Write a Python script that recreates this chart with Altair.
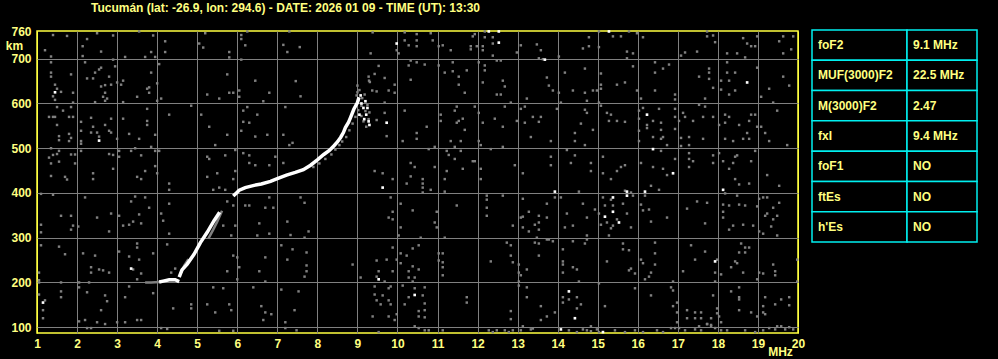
import altair as alt
import pandas as pd

TITLE = "Tucumán (lat: -26.9, lon: 294.6) - DATE: 2026 01 09 - TIME (UT): 13:30"
FREQ_TICKS = list(range(1, 21))
HEIGHT_TICKS = [100, 200, 300, 400, 500, 600, 700, 760]

TABLE_PARAMS = ["foF2", "MUF(3000)F2", "M(3000)F2", "fxI", "foF1", "ftEs", "h'Es"]
TABLE_VALUES = ["9.1 MHz", "22.5 MHz", "2.47", "9.4 MHz", "NO", "NO", "NO"]

# main echo trace (white), segments
TRACE_BOTTOM_F = [4.05, 4.15, 4.3, 4.45, 4.55]
TRACE_BOTTOM_H = [201, 203, 206, 206, 202]
TRACE_LOWER_F = [4.55, 4.62, 4.75, 4.92, 5.08, 5.25, 5.42, 5.56]
TRACE_LOWER_H = [212, 228, 241, 263, 289, 312, 338, 357]
TRACE_UPPER_F = [5.9, 5.98, 6.05, 6.2, 6.42, 6.6, 6.83, 7.0, 7.23, 7.45, 7.65, 7.83, 8.0,
                 8.16, 8.3, 8.41, 8.5, 8.58, 8.65, 8.7, 8.78, 8.83, 8.91, 9.0, 9.04]
TRACE_UPPER_H = [393, 400, 406, 412, 417, 420, 426, 432, 440, 446, 452, 462, 474,
                 486, 495, 505, 514, 524, 535, 546, 558, 569, 587, 602, 614]
# faint (gray) echo segments
FAINT_A_F = [3.7, 3.85, 4.05]
FAINT_A_H = [200, 200, 201]
FAINT_B_F = [4.6, 4.68, 4.78]
FAINT_B_H = [222, 238, 252]
FAINT_C_F = [5.28, 5.4, 5.5, 5.62]
FAINT_C_H = [298, 318, 336, 360]

TRACE_GRAY_PTS = [(7.9,458),(8.05,466),(8.2,476),(8.35,486),(8.45,497),(8.55,507),(8.62,515),
    (8.72,525),(8.8,540),(8.88,555),(8.95,570),(9.02,585),(9.1,572),(9.15,560),(9.22,548),
    (9.28,565),(9.3,580),(9.25,597),(9.12,612),(9.05,630),(9.0,640),(9.1,595),(9.18,620),
    (8.98,618),(9.2,583),(9.29,651),(9.37,629),(9.0,625)]
TRACE_WHITE_PTS = [(9.1,600),(9.15,590),(9.2,605),(9.22,575),(9.28,560),(9.3,552),(9.17,565),
    (9.08,618),(9.25,590),(9.05,575)]

NOISE_WHITE = [(1.45,625),(2.55,517),(9.98,734),(12.28,761),(12.53,761),(12.53,736),(9.73,557),
    (13.68,698),(15.28,761),(18.73,647),(16.23,575),(16.38,498),(16.88,444),(3.35,231),(1.15,155),
    (9.63,412),(9.53,207),(10.43,172),(13.93,403),(15.18,347),(15.38,390),(15.38,358),(15.53,334),
    (15.73,403),(15.73,394),(16.18,403),(18.13,407),(17.93,247),(14.28,180),(14.43,120),(14.08,95),
    (15.13,89)]

NOISE_GRAY = [
    (1.75,751),(1.4,753),(2.25,744),(2.5,757),(2.9,752),(3.55,761),(3.9,752),(4.2,739),(4.2,715),
    (3.85,715),(3.2,704),(2.6,716),(2.14,728),(2.14,706),(1.2,719),(1.35,705),(1.35,692),(2.2,692),
    (2.9,698),(2.95,683),(4.05,688),(3.7,704),(3.95,704),(5.2,757),(5.05,734),(5.15,725),(5.8,715),
    (5.8,703),(6.1,753),(6.1,744),(6.2,730),(6.25,761),(7.15,731),(7.25,715),(7.3,761),(6.1,698),
    (1.35,669),(1.35,660),(1.85,665),(1.45,642),(1.5,633),(1.6,626),(1.4,616),(1.45,608),(1.9,624),
    (1.9,602),(2.25,656),(2.4,656),(2.45,669),(2.55,676),(2.6,680),(2.8,660),(2.6,638),(2.7,641),
    (2.85,642),(2.7,624),(2.65,615),(2.75,611),(2.7,606),(2.45,603),(3.0,647),(3.15,651),(3.1,642),
    (3.15,603),(3.5,615),(3.8,636),(3.75,633),(3.8,624),(3.85,669),(4.0,645),(4.1,611),(4.0,606),
    (4.85,595),(5.25,620),(5.55,611),(5.75,665),(5.8,624),(5.9,624),(6.05,629),(6.05,615),(6.45,651),
    (6.8,624),(6.65,605),
    (1.3,570),(1.4,570),(1.45,570),(1.5,592),(1.65,584),(1.8,570),(1.9,570),(1.85,592),(1.5,552),
    (1.8,532),(1.85,523),(1.55,527),(1.55,518),(1.8,516),(2.1,559),(2.35,568),(2.4,548),(2.1,539),
    (2.1,516),(2.1,510),(2.35,535),(2.5,535),(2.55,526),(2.7,552),(2.8,539),(2.85,535),(2.85,566),
    (3.15,566),(3.0,521),(3.3,532),(3.55,521),(3.75,588),(3.75,561),(3.75,552),(3.95,530),(4.3,575),
    (5.1,575),(5.3,548),(5.45,507),(5.75,530),(6.15,584),(6.15,559),(6.25,592),(6.3,557),(6.5,575),
    (6.1,539),(6.45,526),(6.75,530),(7.2,592),(7.15,530),(7.3,507),
    (1.35,500),(1.55,494),(1.5,487),(1.4,485),(1.3,479),(1.35,466),(1.55,470),(1.85,486),(1.95,486),
    (1.95,466),(1.35,438),(1.7,436),(1.75,430),(2.1,494),(2.4,444),(2.4,431),(2.8,487),(2.9,485),
    (2.9,454),(3.05,494),(3.05,481),(3.35,494),(3.45,500),(3.6,484),(3.85,503),(3.95,494),(4.05,494),
    (3.95,460),(3.7,449),(3.5,436),(3.6,431),(4.0,444),(5.25,481),(5.3,476),(5.25,436),(5.5,444),
    (5.7,484),(5.95,496),(5.95,449),(5.9,431),(6.15,489),(6.3,484),(6.3,467),(6.45,462),(6.8,462),
    (6.95,481),(7.15,467),
    (7.46,650),(7.58,616),(7.56,726),(7.38,512),(9.38,759),(9.33,712),(9.53,684),(9.28,660),(9.43,666),
    (9.31,648),(9.68,657),(9.78,629),(9.93,642),(9.93,624),(9.48,627),(9.68,602),(9.68,579),(9.48,563),
    (9.73,527),(9.98,719),(10.03,712),(10.18,759),(10.18,741),(10.28,730),(10.28,685),(10.33,653),
    (10.18,584),(10.48,755),(10.48,741),(10.48,728),(10.68,687),(10.83,757),(10.88,741),(11.03,728),
    (11.03,685),(11.13,730),(10.33,696),(10.48,692),(10.48,534),(10.48,521),(10.13,516),(10.33,467),
    (10.43,458),(10.73,548),(10.78,498),(10.93,503),(10.93,458),(11.08,575),(11.08,561),(11.18,669),
    (11.33,719),(11.38,692),(11.38,672),(11.53,660),(11.53,642),(11.68,624),(11.73,674),(11.88,750),
    (11.83,728),(11.83,721),(11.93,755),(11.98,728),(12.13,719),(12.18,761),(12.18,748),(12.13,728),
    (12.38,748),(12.38,734),(12.38,707),(12.58,696),(12.48,696),(12.03,692),(12.18,685),(12.18,674),
    (12.13,647),(12.63,651),(12.68,638),(12.48,620),(12.58,620),(12.83,602),(12.68,593),(12.03,579),
    (11.93,593),(12.13,557),(12.43,566),(12.63,548),(12.03,516),(12.08,507),(12.33,498),(12.63,503),
    (11.53,561),(11.48,557),(11.63,566),(11.68,541),(11.48,593),(11.43,584),(11.58,516),(11.33,516),
    (11.43,503),(11.23,494),(11.28,485),(11.58,494),(11.43,476),(11.63,454),(11.88,471),(11.93,471),
    (12.08,454),(12.08,431),(11.23,449),(11.18,431),(12.98,714),(13.08,730),(13.48,732),(13.58,719),
    (13.53,701),(13.63,699),(13.23,611),(13.08,588),(13.18,593),(13.38,570),(13.58,570),(13.53,559),
    (13.18,557),(13.33,525),(12.98,561),(13.13,444),(12.93,462),(9.88,431),(9.43,449),(9.63,444),
    (10.33,437),(10.63,431),
    (13.73,658),(13.78,640),(13.88,629),(14.03,624),(14.08,602),(14.03,705),(14.18,669),(14.38,629),
    (14.63,723),(14.78,748),(14.78,728),(14.68,678),(14.68,624),(14.73,606),(14.88,629),(14.98,629),
    (15.03,761),(15.03,726),(15.08,667),(15.08,642),(15.08,633),(15.03,602),(15.08,595),(15.38,750),
    (15.58,750),(15.73,716),(15.73,701),(15.88,712),(15.88,683),(15.78,761),(15.98,757),(15.68,647),
    (15.48,642),(15.98,629),(16.08,611),(16.13,748),(16.43,692),(16.43,669),(16.63,678),(16.78,687),
    (16.43,629),(16.93,620),(16.93,609),(17.08,707),(17.18,714),(17.48,716),(17.53,660),(17.78,678),
    (17.78,669),(17.78,655),(17.73,761),(17.73,750),(17.88,752),(17.93,737),(17.88,635),(18.08,651),
    (18.08,631),(18.23,712),(18.23,692),(18.23,669),(18.43,669),(18.28,651),(18.43,629),(18.28,620),
    (18.48,712),(18.63,746),(18.73,734),(18.68,703),(18.83,728),(18.93,728),(18.98,750),(18.98,680),
    (19.08,615),(19.28,633),(19.38,602),(19.63,750),(19.53,739),(19.63,712),(19.83,721),(19.88,750),
    (19.63,660),(19.78,640),
    (13.98,588),(13.83,516),(14.43,534),(14.43,516),(14.58,555),(14.68,586),(14.73,579),(14.68,507),
    (14.88,541),(15.23,579),(15.33,575),(15.28,561),(15.48,561),(15.68,559),(16.03,584),(16.03,566),
    (16.03,539),(16.03,516),(16.13,590),(16.23,552),(16.23,545),(16.38,561),(16.53,588),(16.58,557),
    (16.58,541),(16.63,525),(16.58,521),(16.38,525),(16.73,507),(16.93,588),(16.93,570),(16.93,543),
    (17.03,561),(17.13,579),(17.18,570),(17.38,561),(17.53,597),(17.68,611),(17.68,593),(17.63,570),
    (17.88,570),(17.08,523),(17.28,525),(17.28,507),(17.63,521),(18.03,552),(18.18,575),(18.28,570),
    (18.18,557),(18.18,521),(18.38,516),(18.53,552),(18.63,521),(18.73,534),(18.78,521),(18.78,561),
    (18.83,575),(18.93,575),(18.98,548),(19.08,548),(19.18,534),(19.28,516),(19.48,584),(19.73,507),
    (13.83,481),(13.83,462),(14.23,496),(14.33,467),(14.43,484),(14.83,467),(14.83,449),(15.13,481),
    (15.13,444),(15.33,431),(15.48,449),(15.58,458),(15.68,462),(16.08,467),(16.38,458),(16.58,494),
    (16.63,454),(16.73,440),(16.93,476),(17.08,505),(17.28,489),(17.28,476),(17.28,458),(17.38,471),
    (17.88,484),(17.88,467),(18.03,489),(18.13,471),(18.28,454),(18.38,467),(18.43,481),(18.48,484),
    (18.43,431),(18.83,471),(18.93,494),(19.23,440),
    (1.1,398),(1.4,396),(1.6,349),(1.85,349),(1.1,329),(1.1,312),(1.85,318),(1.9,327),(2.03,325),
    (2.2,390),(2.5,345),(2.8,314),(2.85,354),(3.05,349),(3.15,327),(3.3,329),(3.4,336),(3.35,381),
    (3.45,392),(3.55,352),(3.6,332),(3.8,367),(3.7,390),(4.1,354),(4.15,338),(4.3,309),(4.3,376),
    (4.3,407),(4.3,421),(5.4,407),(5.55,412),(5.7,407),(5.75,381),(5.9,372),(5.95,327),(5.65,327),
    (5.85,305),(6.2,372),(6.3,372),(6.7,367),(6.9,367),(6.8,390),(6.55,332),(6.5,305),(6.8,309),
    (7.25,336),(1.1,283),(1.55,280),(1.7,263),(2.15,265),(2.45,260),(2.35,234),(2.55,229),(2.65,227),
    (2.8,222),(2.35,222),(3.05,269),(3.3,258),(3.4,229),(3.5,287),(3.5,278),(3.55,251),(3.6,220),
    (3.5,207),(3.9,265),(4.25,285),(4.35,222),(4.45,231),(5.9,260),(5.75,225),(6.0,256),(6.05,234),
    (6.0,207),(6.55,225),(6.7,256),(6.7,202),(7.1,283),(7.25,251),(1.05,222),(1.05,200),(1.05,205),
    (1.6,200),(2.3,200),(2.05,200),
    (1.05,173),(1.2,160),(1.15,138),(1.15,120),(1.6,180),(1.6,167),(2.05,189),(2.25,178),(2.6,138),
    (2.7,171),(2.75,158),(2.7,107),(2.5,111),(2.2,116),(2.05,113),(2.25,98),(2.35,98),(3.0,111),
    (3.2,111),(3.3,191),(3.2,167),(3.5,116),(3.6,116),(3.9,176),(4.1,98),(4.25,96),(4.4,142),
    (4.85,151),(4.85,142),(5.4,189),(5.25,151),(5.45,133),(5.65,187),(5.8,151),(5.85,138),(5.55,92),
    (5.9,92),(6.4,189),(6.6,147),(6.7,133),(6.85,129),(6.65,116),(7.1,184),(7.2,111),(7.2,98),
    (10.23,421),(10.63,421),(10.63,412),(10.63,401),(10.83,407),(11.18,403),(7.58,390),(7.68,378),
    (7.78,314),(7.68,300),(7.38,274),(7.73,267),(7.73,238),(7.73,225),(7.68,213),(7.33,306),(8.88,240),
    (9.08,211),(9.48,249),(9.73,251),(9.88,278),(9.88,225),(9.83,390),(9.88,358),(9.78,345),(9.88,341),
    (10.08,376),(10.08,323),(10.03,305),(10.38,361),(10.58,300),(10.53,283),(10.38,276),(10.08,265),
    (10.23,260),(9.98,251),(10.08,243),(10.28,225),(10.38,236),(10.53,229),(10.28,211),(10.43,211),
    (10.38,202),(9.53,225),(9.68,202),(9.48,213),(10.98,358),(10.93,334),(10.98,323),(11.18,300),
    (11.03,265),(11.13,265),(11.03,249),(11.13,245),(11.13,234),(11.13,216),(11.48,372),(12.23,394),
    (12.23,385),(12.23,367),(12.23,349),(12.63,394),(13.13,387),(12.88,327),(13.13,347),(13.08,345),
    (13.28,358),(13.53,349),(13.53,334),(13.43,329),(13.13,323),(13.28,314),(13.53,318),(13.48,300),
    (13.43,289),(13.53,287),(12.73,289),(12.83,283),(12.83,260),(12.88,245),(12.33,247),(13.03,240),
    (13.23,229),(13.03,222),(13.08,216),(13.53,260),(13.03,202),(13.03,193),(13.23,189),(13.23,167),
    (13.58,147),(13.58,116),(12.83,136),(12.83,118),(13.13,102),(13.33,95),(13.38,97),(7.53,180),
    (7.43,138),(7.48,93),(9.43,191),(9.43,173),(9.48,160),(9.63,171),(9.58,151),(9.78,187),(9.83,191),
    (9.83,151),(9.78,160),(10.18,151),(10.13,193),(10.28,167),(10.43,187),(10.63,171),(10.68,189),
    (10.68,153),(10.53,136),(10.68,138),(10.68,122),(10.53,124),(9.38,124),(9.78,124),(9.93,116),
    (9.98,129),(10.43,102),(10.53,98),(10.68,93),(10.78,93),(11.13,93),(11.73,167),(11.73,155),
    (12.28,93),(12.38,89),(12.48,93),(12.68,93),(12.78,89),(12.88,93),(13.08,93),(9.53,89),
    (14.08,390),(13.93,390),(14.53,403),(14.63,376),(14.23,354),(13.73,376),(13.73,345),(14.73,345),
    (14.93,363),(14.73,305),(14.38,327),(14.18,323),(13.88,292),(13.78,296),(14.38,292),(14.68,287),
    (15.03,354),(15.13,390),(15.18,372),(15.33,385),(15.38,372),(15.23,334),(15.38,327),(15.33,321),
    (15.48,341),(15.63,376),(15.68,405),(15.83,401),(15.88,394),(15.73,354),(15.83,323),(15.08,329),
    (15.28,305),(16.08,374),(16.13,361),(16.18,394),(16.33,416),(16.53,407),(16.28,363),(16.33,336),
    (16.73,345),(17.23,365),(17.48,381),(17.73,378),(17.68,332),(18.18,399),(18.48,394),(18.53,419),
    (18.78,421),(18.53,374),(18.68,372),(18.13,374),(18.13,358),(18.13,345),(18.28,372),(18.38,327),
    (18.28,318),(18.63,329),(18.88,327),(18.98,370),(19.03,387),(19.13,390),(19.23,390),(19.53,416),
    (19.53,378),(19.38,367),(19.48,349),(19.23,354),(19.18,349),(19.03,314),(19.13,309),(19.33,325),
    (19.48,305),(19.38,341),
    (13.73,296),(14.13,274),(14.13,247),(14.13,240),(14.13,222),(14.38,234),(14.48,229),(14.53,202),
    (14.73,296),(15.63,287),(15.63,274),(15.78,272),(15.23,247),(15.83,231),(15.78,227),(15.93,220),
    (16.08,251),(16.13,243),(16.43,289),(16.43,265),(16.43,240),(16.33,222),(16.28,213),(16.18,207),
    (17.13,225),(17.33,283),(17.43,251),(17.68,269),(17.98,251),(17.93,222),(17.93,202),(18.08,218),
    (18.33,234),(18.43,247),(18.48,243),(18.58,287),(18.68,278),(18.53,267),(18.68,267),(18.78,278),
    (18.63,222),(19.03,222),(19.13,220),(19.38,240),(19.43,225),(19.43,216),(19.98,251),(19.98,202),
    (18.98,207),
    (14.13,167),(14.13,155),(14.28,162),(14.48,167),(14.58,151),(14.48,142),(13.73,124),(13.93,133),
    (15.03,198),(15.18,147),(15.93,187),(16.33,171),(16.88,202),(16.83,189),(16.88,182),(16.98,155),
    (16.88,147),(16.98,133),(16.98,111),(17.23,138),(17.23,120),(17.43,133),(17.43,120),(17.58,133),
    (17.58,120),(17.83,120),(17.73,107),(17.83,105),(17.98,131),(18.03,124),(18.08,111),(17.88,171),
    (17.98,142),(18.33,180),(18.53,189),(18.53,167),(18.53,162),(18.53,138),(18.83,133),(18.98,124),
    (19.13,147),(19.13,133),(19.18,129),(19.18,167),(19.43,151),(19.58,162),(19.78,167),(19.78,149),
    (14.28,93),(14.48,89),(14.63,95),(14.73,93),(14.83,102),(14.83,91),(14.98,95),(15.03,89),
    (15.43,93),(15.68,89),(15.93,93),(16.13,89),(16.48,93),(16.63,89),(16.83,98),(16.93,98),
    (17.03,98),(17.18,93),(17.43,95),(17.53,102),(17.58,93),(17.73,107),(17.83,102),(17.93,98),
    (18.08,93),(18.23,93),(18.68,93),(18.93,89),(19.13,93),(19.28,98),(19.43,95),(19.48,102),
    (19.58,102),(19.68,95),(19.78,100),(19.88,95),
]

YELLOW_TXT = "#ffff80"
YELLOW_LINE = "#ffff40"
GRAY = "#808080"
CYAN = "#00f0f0"
FONT = "Liberation Sans"

def pts_df(pts):
    return pd.DataFrame({"f": [p[0] for p in pts], "h": [p[1] for p in pts]})

def seg_df(pairs):
    rows = []
    for name, fs, hs in pairs:
        for f, h in zip(fs, hs):
            rows.append({"seg": name, "f": f, "h": h})
    return pd.DataFrame(rows)

xscale = alt.Scale(domain=[1, 20], nice=False, zero=False)
yscale = alt.Scale(domain=[87, 762], nice=False, zero=False)

xaxis = alt.Axis(
    values=FREQ_TICKS, labelColor=YELLOW_TXT, labelFont=FONT, labelFontWeight="bold",
    labelFontSize=12, labelPadding=5, labelFlush=False, labelOverlap=False, labelBound=False,
    ticks=False, domain=False,
    gridColor={"condition": {"test": "datum.value == 1 || datum.value == 20", "value": YELLOW_LINE}, "value": GRAY},
    gridWidth=1, gridOpacity=1,
    title="MHz", titleColor=YELLOW_TXT, titleFont=FONT, titleFontWeight="bold", titleFontSize=12,
    titleX=743, titleY=18, titleAlign="center", titleBaseline="middle", titleAngle=0,
)
yaxis = alt.Axis(
    values=HEIGHT_TICKS, labelColor=YELLOW_TXT, labelFont=FONT, labelFontWeight="bold",
    labelFontSize=12, labelPadding=6, labelFlush=False, labelOverlap=False, labelBound=False,
    labelBaseline="middle",
    ticks=False, domain=False,
    gridColor=GRAY, gridWidth=1,
    gridOpacity={"condition": {"test": "datum.value == 760", "value": 0}, "value": 1},
    title="km", titleColor=YELLOW_TXT, titleFont=FONT, titleFontWeight="bold", titleFontSize=12,
    titleX=-23, titleY=14, titleAlign="center", titleBaseline="middle", titleAngle=0,
)

noise_gray = alt.Chart(pts_df(NOISE_GRAY + TRACE_GRAY_PTS)).mark_square(
    size=6, color=GRAY, opacity=1).encode(
    x=alt.X("f:Q", scale=xscale, axis=xaxis),
    y=alt.Y("h:Q", scale=yscale, axis=yaxis),
)
noise_white = alt.Chart(pts_df(NOISE_WHITE + TRACE_WHITE_PTS)).mark_square(
    size=7, color="white", opacity=1).encode(
    x=alt.X("f:Q", scale=xscale), y=alt.Y("h:Q", scale=yscale))

faint = alt.Chart(seg_df([("a", FAINT_A_F, FAINT_A_H), ("b", FAINT_B_F, FAINT_B_H),
                          ("c", FAINT_C_F, FAINT_C_H)])).mark_line(
    color=GRAY, strokeWidth=2.5).encode(
    x=alt.X("f:Q", scale=xscale), y=alt.Y("h:Q", scale=yscale), detail="seg:N")

trace = alt.Chart(seg_df([("bottom", TRACE_BOTTOM_F, TRACE_BOTTOM_H),
                          ("lower", TRACE_LOWER_F, TRACE_LOWER_H),
                          ("upper", TRACE_UPPER_F, TRACE_UPPER_H)])).mark_line(
    color="white", strokeWidth=3.5).encode(
    x=alt.X("f:Q", scale=xscale), y=alt.Y("h:Q", scale=yscale), detail="seg:N")

main = alt.layer(noise_gray, noise_white, faint, trace)

# parameter table
rows = []
for i, (p, v) in enumerate(zip(TABLE_PARAMS, TABLE_VALUES)):
    rows.append({"row": i, "col": 0, "text": p})
    rows.append({"row": i, "col": 1, "text": v})
tdf = pd.DataFrame(rows)
COL_EDGES = [0, 95, 165]
tdf["x0"] = tdf["col"].map(lambda c: COL_EDGES[c])
tdf["x1"] = tdf["col"].map(lambda c: COL_EDGES[c + 1])
tdf["tx"] = tdf["x0"] + 6
tdf["y0"] = tdf["row"]
tdf["y1"] = tdf["row"] + 1
tdf["ty"] = tdf["row"] + 0.5

tx = alt.Scale(domain=[0, 165], range=[775, 940], nice=False, zero=False)
ty = alt.Scale(domain=[0, 7], range=[-1, 211], nice=False, zero=False)
cells = alt.Chart(tdf).mark_rect(fill="black", stroke=CYAN, strokeWidth=1.5).encode(
    x=alt.X("x0:Q", scale=tx, axis=None), x2="x1:Q",
    y=alt.Y("y0:Q", scale=ty, axis=None), y2="y1:Q")
texts = alt.Chart(tdf).mark_text(
    align="left", baseline="middle", color=YELLOW_TXT, font=FONT, fontWeight="bold",
    fontSize=12).encode(
    x=alt.X("tx:Q", scale=tx, axis=None), y=alt.Y("ty:Q", scale=ty, axis=None), text="text:N")
table = alt.layer(cells, texts)

chart = alt.layer(main, table).resolve_scale(x="independent", y="independent").properties(
    width=761, height=302,
    padding={"left": 37, "top": 31, "right": 200, "bottom": 26},
    autosize=alt.AutoSizeParams(type="none"),
    background="black",
    title=alt.TitleParams(text=TITLE, anchor="start", frame="group", dx=54, offset=11,
                          color=YELLOW_TXT, font=FONT, fontWeight="bold", fontSize=12),
).configure_view(stroke=YELLOW_LINE, strokeWidth=1.5, fill="black")

chart.save("out.html", embed_options={"renderer": "svg", "actions": False})
